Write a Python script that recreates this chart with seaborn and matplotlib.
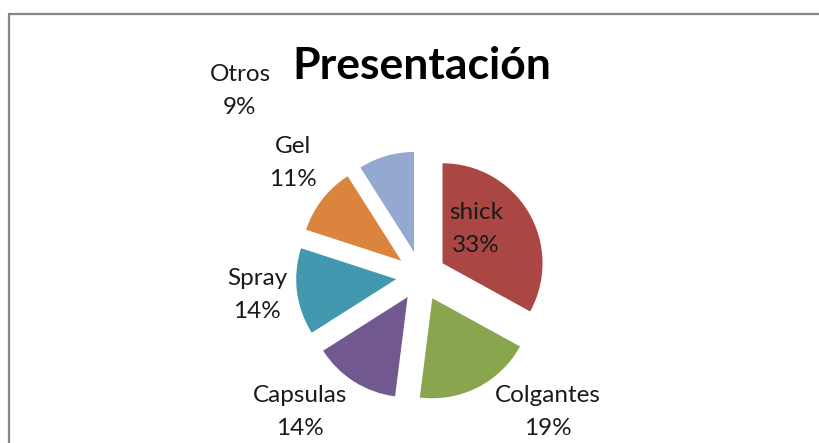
import matplotlib
matplotlib.use("Agg")
import matplotlib.pyplot as plt
import seaborn as sns

# data
categories = ["shick", "Colgantes", "Capsulas", "Spray", "Gel", "Otros"]
shares = [33, 19, 14, 14, 11, 9]
colors = ["#AA4643", "#89A54E", "#71588F", "#4198AF", "#DB843D", "#93A9CF"]

# label centres in pixel space (x, y from top)
label_pos = [(476, 229), (548, 412), (300, 412), (257, 295), (293, 163), (240, 91)]

sns.set_theme(style="white")
plt.rcParams["font.family"] = ["Lato", "DejaVu Sans"]

W, H = 819, 443
fig = plt.figure(figsize=(W / 100, H / 100), dpi=100)
ax = fig.add_axes([0, 0, 1, 1])

radius = 100
center = (421, H - 276)

# explode is in data units (pixels here), not a fraction of the radius
ax.pie(shares, colors=sns.color_palette(colors), startangle=90, counterclock=False,
       radius=radius, center=center, explode=[25] * len(shares),
       wedgeprops=dict(linewidth=0), frame=False)
ax.set_xlim(0, W)
ax.set_ylim(0, H)
ax.set_aspect("equal")
ax.axis("off")

for cat, val, (px, py) in zip(categories, shares, label_pos):
    ax.text(px, H - py, f"{cat}\n{val}%", ha="center", va="center",
            fontsize=17.5, color="#1a1a1a", linespacing=1.65)

ax.text(422, H - 66, "Presentación", ha="center", va="center",
        fontsize=32, fontweight="bold", color="black")

# chart frame (cut off on the right and bottom)
ax.plot([9, 9], [-10, H - 14], color="#878787", lw=1.6, clip_on=False)
ax.plot([9, W + 10], [H - 14, H - 14], color="#878787", lw=1.6, clip_on=False)

fig.savefig("out.png", dpi=100)
